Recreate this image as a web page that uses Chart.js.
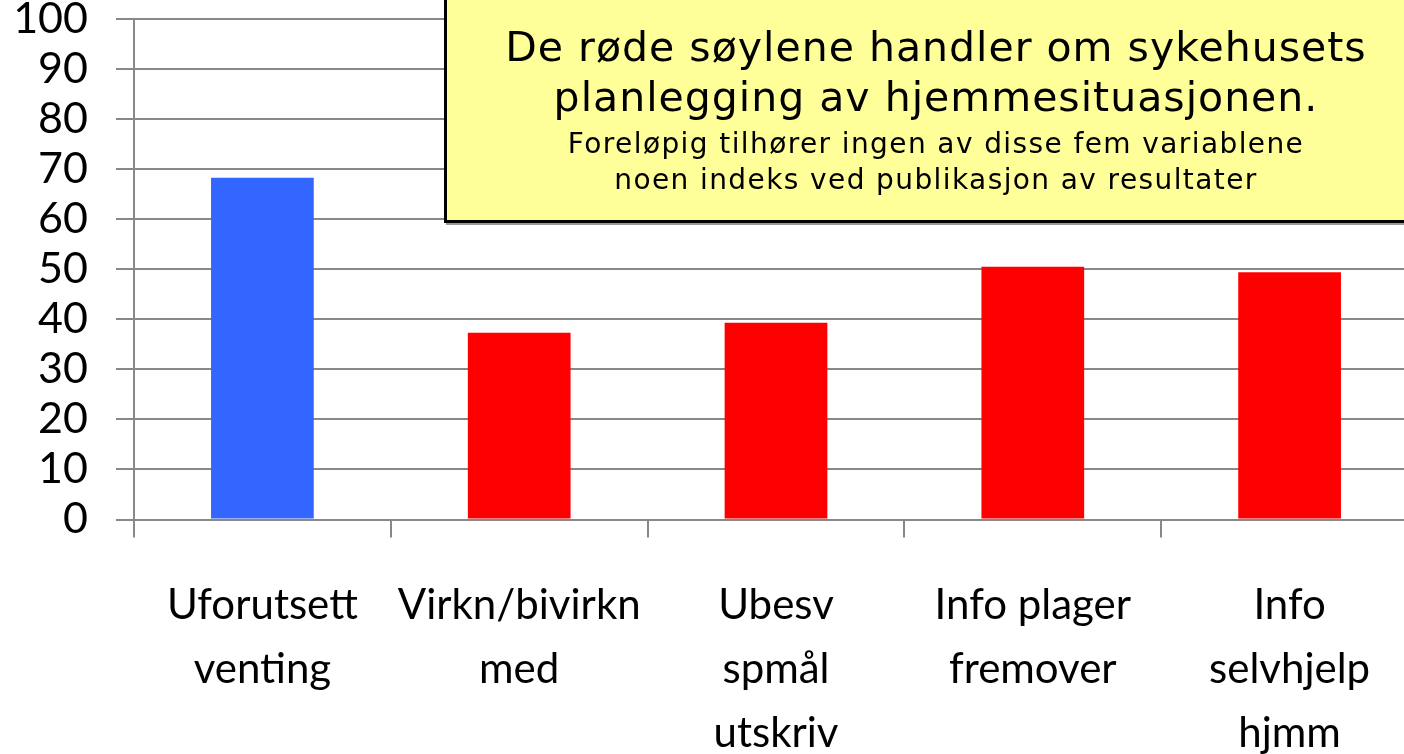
<!DOCTYPE html>
<html>
<head>
<meta charset="utf-8">
<script src="https://cdn.jsdelivr.net/npm/chart.js@4/dist/chart.umd.min.js"></script>
<style>
  html, body { margin: 0; padding: 0; background: #fff; overflow: hidden; }
  #wrap { position: relative; width: 1420px; height: 754px; }
  #note {
    position: absolute; left: 444px; top: -6px; width: 990px; height: 229px;
    background: #ffff99; border: 3px solid #000; box-sizing: border-box; box-shadow: 2px 2px 0 #999;
    text-align: center; font-family: "DejaVu Sans", sans-serif; color: #000;
    padding-top: 25px; padding-right: 6px;
  }
  #note .big { font-size: 41px; line-height: 50px; letter-spacing: 1px; }
  #note .small { font-size: 28px; line-height: 36px; letter-spacing: 1.4px; }
  #note .gap { height: 4px; }
</style>
</head>
<body>
<div id="wrap">
  <canvas id="barChart"></canvas>
  <div id="note">
    <div class="big">De røde søylene handler om sykehusets</div>
    <div class="big">planlegging av hjemmesituasjonen.</div>
    <div class="gap"></div>
    <div class="small">Foreløpig tilhører ingen av disse fem variablene</div>
    <div class="small">noen indeks ved publikasjon av resultater</div>
  </div>
</div>
<script>
var labels = [
    ['Uforutsett', 'venting'],
    ['Virkn/bivirkn', 'med'],
    ['Ubesv', 'spmål', 'utskriv'],
    ['Info plager', 'fremover'],
    ['Info', 'selvhjelp', 'hjmm']
];
var values = [68.3, 37.3, 39.3, 50.5, 49.4];
var barColors = ['#3366ff', '#ff0000', '#ff0000', '#ff0000', '#ff0000'];
var yTicks = [0, 10, 20, 30, 40, 50, 60, 70, 80, 90, 100];

var ctx = document.getElementById('barChart').getContext('2d');

var myChart = new Chart(ctx, {
    type: 'bar',
    data: {
        labels: labels,
        datasets: [{
            data: values,
            backgroundColor: barColors,
            barPercentage: 0.4,
            categoryPercentage: 1
        }]
    },
    options: {
        responsive: true,
        maintainAspectRatio: false,
        animation: false,
        layout: { padding: { top: 19, right: 2, bottom: 0, left: 0 } },
        plugins: {
            legend: { display: false },
            tooltip: { enabled: false }
        },
        scales: {
            x: {
                afterFit: function (scale) { scale.height = 234.5; },
                grid: {
                    offset: true,
                    drawOnChartArea: false,
                    color: '#888888',
                    lineWidth: 2,
                    tickLength: 18
                },
                border: { color: '#888888', width: 2 },
                ticks: {
                    color: '#000',
                    autoSkip: false,
                    maxRotation: 0,
                    padding: 36,
                    font: { family: 'Lato', size: 42, lineHeight: 1.52 }
                }
            },
            y: {
                min: 0,
                max: 100,
                afterFit: function (scale) {
                    scale.width = 134;
                    // keep the tick-label padding from pushing the plot down
                    scale.paddingTop = 0;
                    scale.paddingBottom = 0;
                },
                afterBuildTicks: function (scale) {
                    scale.ticks = yTicks.map(function (v) { return { value: v }; });
                },
                grid: {
                    color: '#888888',
                    lineWidth: 2,
                    tickLength: 18
                },
                border: { color: '#888888', width: 2 },
                ticks: {
                    color: '#000',
                    padding: 28,
                    font: { family: 'Lato', size: 43, lineHeight: 0.9 }
                }
            }
        }
    }
});
</script>
</body>
</html>
